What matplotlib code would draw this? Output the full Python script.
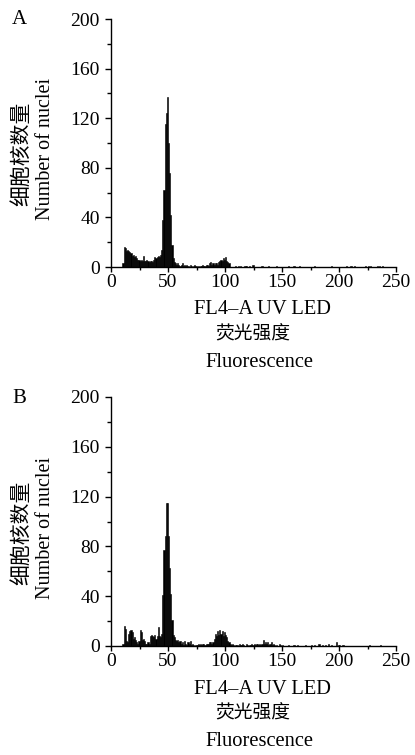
import matplotlib
matplotlib.use("Agg")
import matplotlib.pyplot as plt
from matplotlib.ticker import MultipleLocator

# ---------------- data (channel, count) ----------------
chan_a = list(range(10, 104)) + [109, 111, 113, 117, 118, 121, 124, 132, 138, 145, 155,
                                 160, 165, 178, 193, 206, 210, 213, 223, 225, 227, 233, 235, 238]
count_a = [3, 16, 15, 13, 14, 13, 12, 11, 9, 10,        # 10-19
           8, 9, 7, 6, 6, 5, 6, 5, 9, 5,               # 20-29
           5, 6, 5, 4, 5, 5, 4, 6, 8, 7,               # 30-39
           8, 9, 8, 10, 14, 38, 62, 115, 124, 137,     # 40-49
           100, 76, 42, 18, 7, 4, 3, 2, 3, 2,          # 50-59
           1, 2, 3, 1, 2, 1, 2, 1, 0, 2,               # 60-69
           1, 0, 1, 2, 1, 0, 1, 0, 1, 1,               # 70-79
           2, 1, 1, 2, 2, 1, 3, 4, 2, 3,               # 80-89
           2, 3, 3, 2, 4, 5, 6, 5, 7, 6,               # 90-99
           8, 5, 4, 3] + [1, 1, 1, 1, 1, 1, 2, 1, 1, 1, 1,
                          1, 1, 1, 1, 1, 1, 1, 1, 1, 1, 1, 1, 1]

chan_b = list(range(10, 144)) + [145, 147, 148, 150, 155, 160, 163, 170, 175, 178, 182,
                                 185, 188, 190, 193, 197, 199, 200, 203, 226, 236]
count_b = [2, 16, 14, 4, 3, 10, 12, 13, 11, 6,         # 10-19
           7, 5, 3, 2, 4, 13, 11, 5, 6, 4,             # 20-29
           2, 2, 3, 2, 8, 9, 8, 7, 9, 6,               # 30-39
           8, 15, 8, 7, 10, 41, 77, 88, 115, 115,      # 40-49
           88, 63, 42, 21, 9, 7, 5, 4, 5, 3,           # 50-59
           4, 2, 3, 1, 4, 2, 1, 3, 2, 4,               # 60-69
           1, 2, 1, 0, 1, 1, 2, 1, 2, 1,               # 70-79
           2, 2, 1, 2, 2, 2, 3, 3, 2, 3,               # 80-89
           6, 10, 8, 12, 9, 13, 10, 12, 8, 11,         # 90-99
           9, 7, 4, 3, 2, 1, 2, 1, 0, 1,               # 100-109
           1, 0, 2, 1, 1, 2, 1, 0, 2, 1,               # 110-119
           0, 1, 1, 2, 1, 2, 1, 2, 2, 1,               # 120-129
           2, 1, 2, 5, 2, 3, 2, 3, 1, 2,               # 130-139
           3, 1, 2, 1] + [1, 2, 1, 1, 1, 1, 1, 1, 1, 1, 2,
                          1, 1, 2, 1, 3, 1, 1, 1, 1, 1]

panels = [("A", chan_a, count_a), ("B", chan_b, count_b)]
x_ticks = [0, 50, 100, 150, 200, 250]
y_ticks = [0, 40, 80, 120, 160, 200]
xlabel_en = "FL4\u2013A UV LED"
xlabel_cn = "荧光强度"
xlabel_en2 = "Fluorescence"
ylabel_cn = "细胞核数量"
ylabel_en = "Number of nuclei"

# ---------------- layout ----------------
W, H = 415, 755
fig = plt.figure(figsize=(W / 100, H / 100), dpi=100)
fig.patch.set_facecolor("white")

LAT = "Liberation Serif"
CJK = ["Noto Sans CJK SC", "DejaVu Sans"]

def fx(x):
    return x / W

def fy(y):
    return 1 - y / H

axes_px = [(111, 396, 19, 267), (111, 396, 397, 646)]

for (letter, ch, ct), (l, r, t, b) in zip(panels, axes_px):
    ax = fig.add_axes([fx(l), fy(b), (r - l) / W, (b - t) / H])
    ax.bar(ch, ct, width=1.0, align="edge", color="black", edgecolor="black", linewidth=0.4)
    ax.set_xlim(0, 250)
    ax.set_ylim(0, 200)
    for s in ("top", "right"):
        ax.spines[s].set_visible(False)
    for s in ("left", "bottom"):
        ax.spines[s].set_linewidth(1.0)
    ax.set_xticks(x_ticks)
    ax.set_yticks(y_ticks)
    ax.xaxis.set_minor_locator(MultipleLocator(25))
    ax.yaxis.set_minor_locator(MultipleLocator(20))
    ax.tick_params(axis="both", which="major", direction="out", width=1.0, labelsize=14)
    ax.tick_params(axis="y", which="major", length=4, pad=4)
    ax.tick_params(axis="y", which="minor", length=3, width=1.0)
    ax.tick_params(axis="x", which="major", length=3.5, pad=1.5)
    ax.tick_params(axis="x", which="minor", length=2.5, width=1.0)
    for lab in ax.get_xticklabels() + ax.get_yticklabels():
        lab.set_fontfamily(LAT)
    ax.set_facecolor("white")

    cy = (t + b) / 2
    # panel letter
    fig.text(fx(19), fy(t + 1), letter, family=LAT, fontsize=15, ha="center", va="center")
    # y labels
    fig.text(fx(21), fy(cy + 11), ylabel_cn, family=CJK, fontsize=15, rotation=90,
             ha="center", va="center")
    fig.text(fx(46), fy(cy + 6), ylabel_en, family=LAT, fontsize=14.5, rotation=90,
             ha="center", va="center")
    # x labels
    cx = 256
    fig.text(fx(cx + 6), fy(b + 43), xlabel_en, family=LAT, fontsize=14.8, ha="center", va="center")
    fig.text(fx(cx - 3), fy(b + 67), xlabel_cn, family=CJK, fontsize=13.5, ha="center", va="center")
    fig.text(fx(cx + 3), fy(b + 96), xlabel_en2, family=LAT, fontsize=14.8, ha="center", va="center")

fig.savefig("out.png", dpi=100, facecolor="white")
